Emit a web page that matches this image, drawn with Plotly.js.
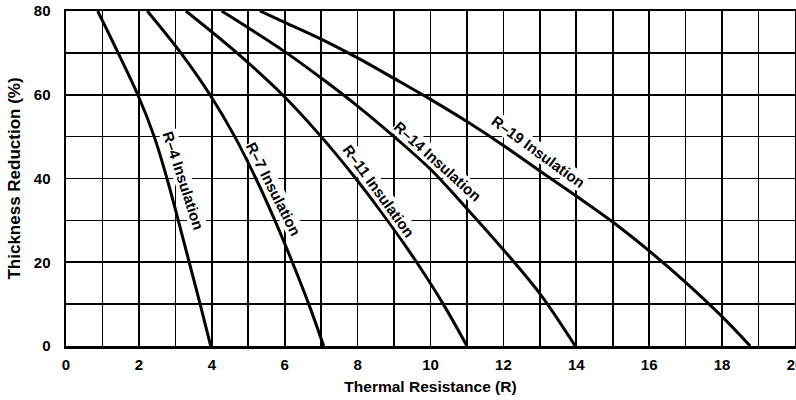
<!DOCTYPE html>
<html><head><meta charset="utf-8">
<script src="https://cdn.plot.ly/plotly-3.0.1.min.js"></script>
<style>body{margin:0;background:#fff}#c{width:796px;height:400px}</style>
</head><body><div id="c"></div>
<script>
// Thickness reduction (%) vs thermal resistance (R)
const r4x  = [0.87, 1.43, 1.97, 2.42, 2.77, 3.08, 3.38, 3.68, 3.97];
const r4y  = [80, 70, 60, 50, 40, 30, 20, 10, 0];
const r7x  = [2.23, 3.15, 3.95, 4.63, 5.21, 5.73, 6.21, 6.66, 7.07];
const r7y  = [80, 70, 60, 50, 40, 30, 20, 10, 0];
const r11x = [3.29, 4.69, 5.94, 7.0, 7.95, 8.82, 9.62, 10.35, 11.0];
const r11y = [80, 70, 60, 50, 40, 30, 20, 10, 0];
const r14x = [4.27, 5, 6, 7, 8, 9, 10, 11, 12, 13, 13.97];
const r14y = [80, 76.0, 70.3, 64.0, 57.3, 50.0, 42.2, 32.8, 23.0, 12.5, 0];
const r19x = [5.32, 6, 7, 8, 9, 10, 11, 12, 13, 14, 15, 16, 17, 18, 18.77];
const r19y = [80, 77.3, 73.3, 68.8, 63.9, 58.9, 53.6, 47.9, 41.8, 35.8, 29.6, 22.7, 15.2, 7.0, 0];

const labels = ["R–4 Insulation", "R–7 Insulation", "R–11 Insulation", "R–14 Insulation", "R–19 Insulation"];
const labelX = [3.22, 5.68, 8.6, 10.2, 12.95];
const labelY = [39.5, 37.5, 37, 44, 46.5];
const labelAngle = [72, 63, 54, 42, 36];

const xTickVals = [0, 2, 4, 6, 8, 10, 12, 14, 16, 18, 20];
const yTickVals = [0, 20, 40, 60, 80];

const series = [[r4x, r4y], [r7x, r7y], [r11x, r11y], [r14x, r14y], [r19x, r19y]];
const traces = series.map(s => ({
  x: s[0], y: s[1], type: 'scatter', mode: 'lines',
  line: {color: '#000', width: 3, shape: 'spline', smoothing: 1},
  hoverinfo: 'skip', showlegend: false
}));

const font = {family: 'Liberation Sans, Arial, sans-serif', color: '#000'};
const annotations = labels.map((t, i) => ({
  x: labelX[i], y: labelY[i], xref: 'x', yref: 'y', text: '<b>' + t + '</b>',
  showarrow: false, textangle: labelAngle[i], bgcolor: '#fff',
  font: Object.assign({}, font, {size: 15}), borderpad: 0
}));

const layout = {
  width: 796, height: 400,
  margin: {l: 66, r: 1, t: 11, b: 54},
  paper_bgcolor: '#fff', plot_bgcolor: '#fff',
  showlegend: false,
  font: font,
  xaxis: {
    range: [0, 20], tickvals: xTickVals, ticktext: xTickVals.map(v => '<b>' + v + '</b>'),
    ticklabeloverflow: 'allow',
    showgrid: true, gridcolor: '#000', gridwidth: 1.6,
    minor: {dtick: 1, tick0: 0, showgrid: true, gridcolor: '#000', gridwidth: 1.6},
    showline: true, linecolor: '#000', linewidth: 2.5, mirror: true,
    zeroline: false, ticks: '', ticklen: 0, ticklabelstandoff: 3,
    tickfont: Object.assign({}, font, {size: 15}),
    title: {text: '<b>Thermal Resistance (R)</b>', font: Object.assign({}, font, {size: 15.5}), standoff: 10}
  },
  yaxis: {
    range: [0, 80], tickvals: yTickVals, ticktext: yTickVals.map(v => '<b>' + v + '</b>'),
    showgrid: true, gridcolor: '#000', gridwidth: 1.6,
    minor: {dtick: 10, tick0: 0, showgrid: true, gridcolor: '#000', gridwidth: 1.6},
    showline: true, linecolor: '#000', linewidth: 2.5, mirror: true,
    zeroline: false, ticks: '', ticklen: 0, ticklabelstandoff: 10,
    tickfont: Object.assign({}, font, {size: 15}),
    title: {text: '<b>Thickness Reduction (%)</b>', font: Object.assign({}, font, {size: 17}), standoff: 9}
  },
  annotations: annotations
};

Plotly.newPlot('c', traces, layout, {displayModeBar: false, staticPlot: true});
</script>
</body></html>
